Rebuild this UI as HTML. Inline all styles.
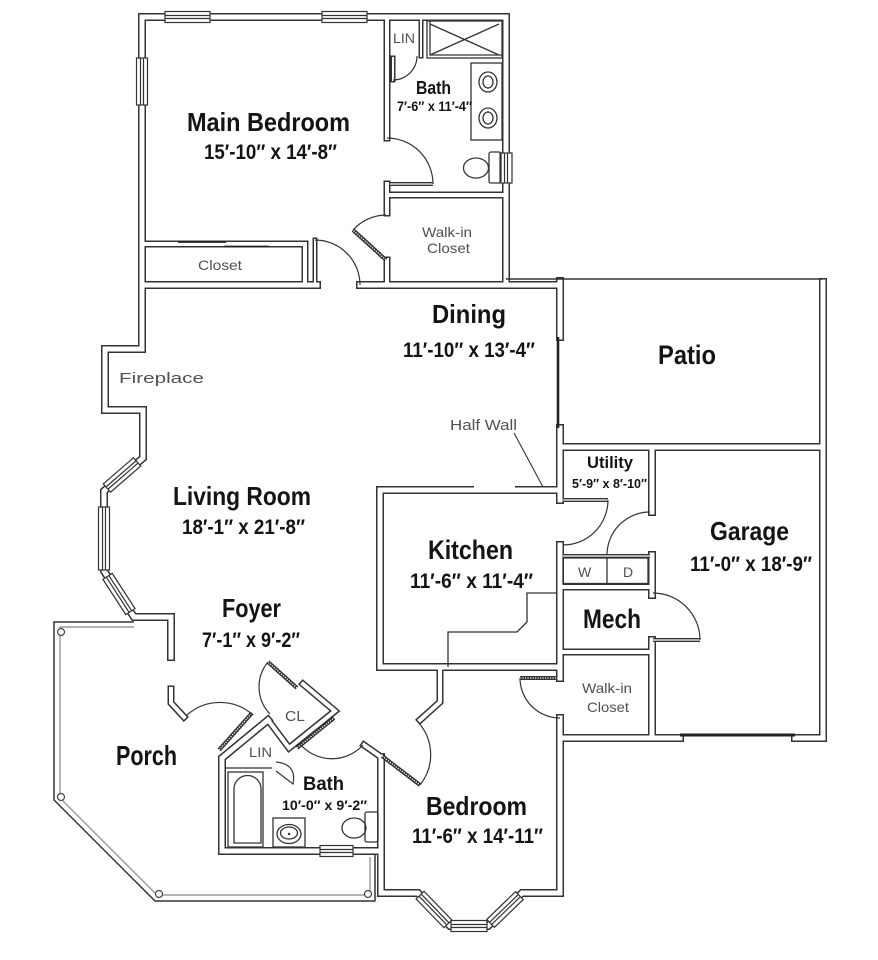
<!DOCTYPE html>
<html><head><meta charset="utf-8"><style>
html,body{margin:0;padding:0;background:#fff;}
svg{display:block}
.t{font-family:"Liberation Sans Narrow","Liberation Sans",sans-serif;font-weight:bold;fill:#141414}
.s{font-family:"Liberation Sans",sans-serif;fill:#505050}
</style></head><body>
<svg width="878" height="960" viewBox="0 0 878 960" xmlns="http://www.w3.org/2000/svg">
<rect width="878" height="960" fill="#fff"/>

<!-- porch -->
<g fill="none">
<path d="M134,622 L54,622 L54,800 L155,901 L375,901 L375,855" stroke="#333" stroke-width="1.5"/>
<path d="M134,627 L60,627 L60,798 L157,895 L370,895 L370,857" stroke="#9a9a9a" stroke-width="1.4"/>
</g>

<!-- walls dark pass -->
<g fill="none" stroke-linecap="square" stroke-linejoin="miter" stroke-miterlimit="10" stroke="#333">
<g stroke-width="8">
<path d="M506,285 L506,17 L142,17 L142,349 L105,349 L105,410 L143,410 L143,458 L104,491 L104,571 L134,617 L171,617 L171,657"/>
<path d="M142,285 L317,285"/>
<path d="M360,285 L560,285"/>
<path d="M560,281 L560,337"/>
<path d="M560,428 L560,500"/>
<path d="M560,545 L560,678"/>
<path d="M560,718 L560,893"/>
<path d="M560,447 L823,447"/>
<path d="M823,282 L823,738"/>
<path d="M560,738 L680,738"/>
<path d="M795,738 L823,738"/>
<path d="M652,447 L652,512"/>
<path d="M652,555 L652,595"/>
<path d="M652,640 L652,738"/>
<path d="M560,490 L380,490 L380,667 L560,667"/>
<path d="M381,757 L381,893 L418,893 L450,926 L488,926 L522,893 L560,893"/>
<path d="M268,720 L222,758 L222,851 L381,851"/>
</g>
<g stroke-width="7">
<path d="M560,587 L652,587"/>
<path d="M560,652 L652,652"/>
<path d="M387,17 L387,138"/>
<path d="M387,184 L387,213"/>
<path d="M387,260 L387,285"/>
<path d="M387,195 L506,195"/>
<path d="M143,244 L305,244 L305,285"/>
<path d="M171,689 L171,703 L184,717"/>
<path d="M440,667 L440,702 L420,720"/>
<path d="M364,745 L381,757"/>
<path d="M268,720 L289,748 L335,711 L303,684"/>
</g>
<g stroke-width="5">
<path d="M421,17 L421,56"/>
<path d="M315,285 L315,240"/>
<path d="M393,58 L393,80"/>
</g>
</g>

<!-- walls white pass -->
<g fill="none" stroke-linecap="square" stroke-linejoin="miter" stroke-miterlimit="10" stroke="#fff">
<g stroke-width="5">
<path d="M506,285 L506,17 L142,17 L142,349 L105,349 L105,410 L143,410 L143,458 L104,491 L104,571 L134,617 L171,617 L171,657"/>
<path d="M142,285 L317,285"/>
<path d="M360,285 L560,285"/>
<path d="M560,281 L560,337"/>
<path d="M560,428 L560,500"/>
<path d="M560,545 L560,678"/>
<path d="M560,718 L560,893"/>
<path d="M560,447 L823,447"/>
<path d="M823,282 L823,738"/>
<path d="M560,738 L680,738"/>
<path d="M795,738 L823,738"/>
<path d="M652,447 L652,512"/>
<path d="M652,555 L652,595"/>
<path d="M652,640 L652,738"/>
<path d="M560,490 L380,490 L380,667 L560,667"/>
<path d="M381,757 L381,893 L418,893 L450,926 L488,926 L522,893 L560,893"/>
<path d="M268,720 L222,758 L222,851 L381,851"/>
</g>
<g stroke-width="4">
<path d="M560,587 L652,587"/>
<path d="M560,652 L652,652"/>
<path d="M387,17 L387,138"/>
<path d="M387,184 L387,213"/>
<path d="M387,260 L387,285"/>
<path d="M387,195 L506,195"/>
<path d="M143,244 L305,244 L305,285"/>
<path d="M171,689 L171,703 L184,717"/>
<path d="M440,667 L440,702 L420,720"/>
<path d="M364,745 L381,757"/>
<path d="M268,720 L289,748 L335,711 L303,684"/>
</g>
<g stroke-width="2">
<path d="M421,17 L421,56"/>
<path d="M315,285 L315,240"/>
<path d="M393,58 L393,80"/>
</g>
</g>

<!-- kitchen pass-through notch -->
<rect x="474" y="485" width="41" height="3.5" fill="#fff"/>
<!-- closet sliding doors -->
<g stroke="#222" stroke-width="1.8">
<path d="M178,242 H226"/>
<path d="M224,246.5 H269"/>
</g>

<!-- thin lines -->
<g fill="none" stroke="#333" stroke-width="1.5">
<path d="M506,279 L823,279"/>
<path d="M514,433 L543,487" stroke-width="1.1"/>
<path d="M557,593 L527,593 L527,622 L517,632 L448,632 L448,667" stroke-width="1.3"/>
<path d="M226,768 L272,768" stroke-width="1.3"/>
</g>
<path d="M558,337 L558,428" stroke="#222" stroke-width="2.6"/>
<path d="M680,735 L795,735" stroke="#222" stroke-width="3"/>

<!-- windows -->
<g fill="#fff" stroke="#333" stroke-width="1.2">
<g transform="translate(187.5,17)"><rect x="-22.5" y="-5.5" width="45" height="11"/><path fill="none" d="M-22.5,-1.5H22.5M-22.5,1.5H22.5"/></g>
<g transform="translate(344.5,17)"><rect x="-22.5" y="-5.5" width="45" height="11"/><path fill="none" d="M-22.5,-1.5H22.5M-22.5,1.5H22.5"/></g>
<g transform="translate(142,81.5) rotate(90)"><rect x="-23.5" y="-5.5" width="47" height="11"/><path fill="none" d="M-23.5,-1.5H23.5M-23.5,1.5H23.5"/></g>
<g transform="translate(506,168) rotate(90)"><rect x="-15" y="-6" width="30" height="12"/><path fill="none" d="M-15,-1.5H15M-15,1.5H15"/></g>
<g transform="translate(122,475) rotate(-41)"><rect x="-20" y="-5.5" width="40" height="11"/><path fill="none" d="M-20,-1.5H20M-20,1.5H20"/></g>
<g transform="translate(104,538.5) rotate(90)"><rect x="-31.5" y="-5.5" width="63" height="11"/><path fill="none" d="M-31.5,-1.5H31.5M-31.5,1.5H31.5"/></g>
<g transform="translate(119,594) rotate(57)"><rect x="-21" y="-5.5" width="42" height="11"/><path fill="none" d="M-21,-1.5H21M-21,1.5H21"/></g>
<g transform="translate(336.5,851)"><rect x="-16.5" y="-5.5" width="33" height="11"/><path fill="none" d="M-16.5,-1.5H16.5M-16.5,1.5H16.5"/></g>
<g transform="translate(434,909.5) rotate(45.9)"><rect x="-20" y="-5.5" width="40" height="11"/><path fill="none" d="M-20,-1.5H20M-20,1.5H20"/></g>
<g transform="translate(469,926)"><rect x="-18" y="-5.5" width="36" height="11"/><path fill="none" d="M-18,-1.5H18M-18,1.5H18"/></g>
<g transform="translate(505,909.5) rotate(-44)"><rect x="-20" y="-5.5" width="40" height="11"/><path fill="none" d="M-20,-1.5H20M-20,1.5H20"/></g>
</g>

<!-- door leaves hatched -->
<g fill="none" stroke-linecap="butt">
<g stroke="#333" stroke-width="4">
<path d="M219,750 L252,713"/>
<path d="M386,260 L353,230"/>
<path d="M382,756 L420,785"/>
<path d="M297,688 L268,662"/>
<path d="M297,748 L334,718"/>
<path d="M520,678 L557,678"/>
<path d="M563,500 L608,500"/>
<path d="M653,640 L700,640"/>
<path d="M390,184 L433,184"/>
<path d="M563,556 L650,556"/>
</g>
<g stroke="#fff" stroke-width="1.3">
<path d="M219,750 L252,713" stroke-dasharray="1.2 1.3"/>
<path d="M386,260 L353,230" stroke-dasharray="1.2 1.3"/>
<path d="M382,756 L420,785" stroke-dasharray="1.2 1.3"/>
<path d="M297,688 L268,662" stroke-dasharray="1.2 1.3"/>
<path d="M297,748 L334,718" stroke-dasharray="1.2 1.3"/>
<path d="M520,678 L557,678" stroke-dasharray="1.2 1.3"/>
<path d="M563,500 L608,500"/>
<path d="M653,640 L700,640"/>
<path d="M390,184 L433,184"/>
<path d="M563,556 L650,556"/>
</g>
</g>

<!-- door arcs -->
<g fill="none" stroke="#333" stroke-width="1.2">
<path d="M387,138 A46,46 0 0 1 433,184"/>
<path d="M315,240 A45,45 0 0 1 360,285"/>
<path d="M353,230 A45,45 0 0 1 386,215"/>
<path d="M393,80 A24,24 0 0 0 417,56"/>
<path d="M608,500 A45,45 0 0 1 563,545"/>
<path d="M650,512 A43,43 0 0 0 607,555"/>
<path d="M700,640 A47,47 0 0 0 653,593"/>
<path d="M520,678 A40,40 0 0 0 560,718"/>
<path d="M420,785 A48.5,48.5 0 0 0 418,722"/>
<path d="M300,744 A42,42 0 0 0 363,745"/>
<path d="M268,662 A39,39 0 0 0 270,714"/>
<path d="M187,715 A49.6,49.6 0 0 1 253,715"/>
<path d="M276,762 Q297,764 293,784 L276,771"/>
</g>

<!-- fixtures -->
<g fill="none" stroke="#333" stroke-width="1.3">
<rect x="427" y="21" width="75" height="37"/>
<path d="M430,21 V55 H502"/>
<path d="M430,24 L499,55 M430,55 L499,24"/>
<rect x="471" y="63" width="31" height="77"/>
<ellipse cx="488" cy="82" rx="9" ry="10"/>
<ellipse cx="488" cy="82" rx="5" ry="6"/>
<ellipse cx="488" cy="118" rx="9" ry="10"/>
<ellipse cx="488" cy="118" rx="5" ry="6"/>
<rect x="489" y="152" width="12" height="31" rx="2"/>
<ellipse cx="476" cy="168" rx="12.5" ry="10"/>
<rect x="228" y="772" width="35" height="75"/>
<path d="M234,843 V789 A13.5,13.5 0 0 1 261,789 V843 Z"/>
<rect x="273" y="818" width="32" height="29"/>
<ellipse cx="289" cy="834" rx="12" ry="9.5"/>
<ellipse cx="289" cy="833" rx="8.5" ry="6"/>
<rect x="365" y="812" width="13" height="30" rx="2"/>
<ellipse cx="354" cy="828" rx="12" ry="10"/>
<rect x="563" y="558" width="85" height="25.5"/>
<path d="M607,558 V583.5"/>
</g>
<circle cx="289" cy="834" r="1.2" fill="#333"/>

<!-- porch posts -->
<g fill="#fff" stroke="#444" stroke-width="1.2">
<circle cx="61" cy="632" r="3.5"/>
<circle cx="61" cy="797" r="3.5"/>
<circle cx="159" cy="894" r="3.5"/>
<circle cx="368" cy="894" r="3.5"/>
</g>

<!-- labels -->
<g class="t">
<text x="187" y="131" font-size="26" textLength="163" lengthAdjust="spacingAndGlyphs">Main Bedroom</text>
<text x="204" y="159" font-size="21" textLength="133" lengthAdjust="spacingAndGlyphs">15′-10″ x 14′-8″</text>
<text x="416" y="94" font-size="18" textLength="35" lengthAdjust="spacingAndGlyphs">Bath</text>
<text x="397" y="111" font-size="14" textLength="75" lengthAdjust="spacingAndGlyphs">7′-6″ x 11′-4″</text>
<text x="432" y="323" font-size="26" textLength="74" lengthAdjust="spacingAndGlyphs">Dining</text>
<text x="403" y="357" font-size="21" textLength="132" lengthAdjust="spacingAndGlyphs">11′-10″ x 13′-4″</text>
<text x="658" y="364" font-size="27" textLength="58" lengthAdjust="spacingAndGlyphs">Patio</text>
<text x="587" y="468" font-size="17" textLength="46" lengthAdjust="spacingAndGlyphs">Utility</text>
<text x="572" y="488" font-size="13" textLength="75" lengthAdjust="spacingAndGlyphs">5′-9″ x 8′-10″</text>
<text x="173" y="505" font-size="26" textLength="138" lengthAdjust="spacingAndGlyphs">Living Room</text>
<text x="182" y="534" font-size="21" textLength="123" lengthAdjust="spacingAndGlyphs">18′-1″ x 21′-8″</text>
<text x="428" y="559" font-size="27" textLength="85" lengthAdjust="spacingAndGlyphs">Kitchen</text>
<text x="410" y="588" font-size="21" textLength="123" lengthAdjust="spacingAndGlyphs">11′-6″ x 11′-4″</text>
<text x="710" y="540" font-size="26" textLength="79" lengthAdjust="spacingAndGlyphs">Garage</text>
<text x="690" y="571" font-size="21" textLength="122" lengthAdjust="spacingAndGlyphs">11′-0″ x 18′-9″</text>
<text x="583" y="628" font-size="27" textLength="58" lengthAdjust="spacingAndGlyphs">Mech</text>
<text x="222" y="617" font-size="26" textLength="59" lengthAdjust="spacingAndGlyphs">Foyer</text>
<text x="202" y="647" font-size="21" textLength="98" lengthAdjust="spacingAndGlyphs">7′-1″ x 9′-2″</text>
<text x="116" y="765" font-size="28" textLength="61" lengthAdjust="spacingAndGlyphs">Porch</text>
<text x="303" y="790" font-size="19" textLength="41" lengthAdjust="spacingAndGlyphs">Bath</text>
<text x="282" y="810" font-size="14" textLength="85" lengthAdjust="spacingAndGlyphs">10′-0″ x 9′-2″</text>
<text x="426" y="815" font-size="26" textLength="101" lengthAdjust="spacingAndGlyphs">Bedroom</text>
<text x="412" y="843" font-size="21" textLength="131" lengthAdjust="spacingAndGlyphs">11′-6″ x 14′-11″</text>
</g>
<g class="s">
<text x="393" y="43" font-size="14" textLength="22" lengthAdjust="spacingAndGlyphs">LIN</text>
<text x="422" y="237" font-size="14" textLength="50" lengthAdjust="spacingAndGlyphs">Walk-in</text>
<text x="427" y="253" font-size="14" textLength="43" lengthAdjust="spacingAndGlyphs">Closet</text>
<text x="198" y="270" font-size="14" textLength="44" lengthAdjust="spacingAndGlyphs">Closet</text>
<text x="119" y="383" font-size="15" textLength="85" lengthAdjust="spacingAndGlyphs">Fireplace</text>
<text x="450" y="430" font-size="15" textLength="67" lengthAdjust="spacingAndGlyphs">Half Wall</text>
<text x="578" y="577" font-size="14">W</text>
<text x="623" y="577" font-size="14">D</text>
<text x="582" y="693" font-size="14" textLength="50" lengthAdjust="spacingAndGlyphs">Walk-in</text>
<text x="587" y="712" font-size="14" textLength="42" lengthAdjust="spacingAndGlyphs">Closet</text>
<text x="285" y="721" font-size="15" textLength="20" lengthAdjust="spacingAndGlyphs">CL</text>
<text x="249" y="757" font-size="14" textLength="23" lengthAdjust="spacingAndGlyphs">LIN</text>
</g>
</svg>
</body></html>
